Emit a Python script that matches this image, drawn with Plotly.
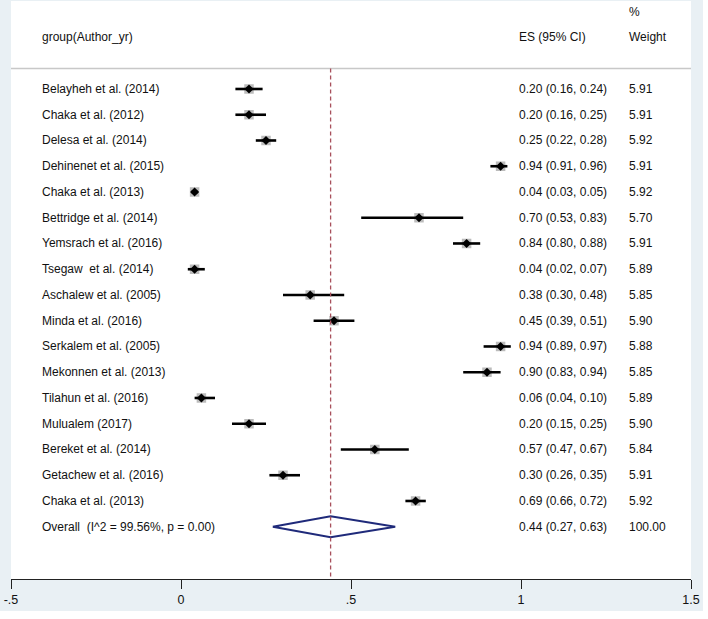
import plotly.graph_objects as go

# ---------------- data ----------------
studies = ["Belayheh et al. (2014)", "Chaka et al. (2012)", "Delesa et al. (2014)",
           "Dehinenet et al. (2015)", "Chaka et al. (2013)", "Bettridge et al. (2014)",
           "Yemsrach et al. (2016)", "Tsegaw  et al. (2014)", "Aschalew et al. (2005)",
           "Minda et al. (2016)", "Serkalem et al. (2005)", "Mekonnen et al. (2013)",
           "Tilahun et al. (2016)", "Mulualem (2017)", "Bereket et al. (2014)",
           "Getachew et al. (2016)", "Chaka et al. (2013)"]
es = [0.20, 0.20, 0.25, 0.94, 0.04, 0.70, 0.84, 0.04, 0.38, 0.45, 0.94, 0.90, 0.06, 0.20, 0.57, 0.30, 0.69]
lo = [0.16, 0.16, 0.22, 0.91, 0.03, 0.53, 0.80, 0.02, 0.30, 0.39, 0.89, 0.83, 0.04, 0.15, 0.47, 0.26, 0.66]
hi = [0.24, 0.25, 0.28, 0.96, 0.05, 0.83, 0.88, 0.07, 0.48, 0.51, 0.97, 0.94, 0.10, 0.25, 0.67, 0.35, 0.72]
weights = [5.91, 5.91, 5.92, 5.91, 5.92, 5.70, 5.91, 5.89, 5.85, 5.90, 5.88, 5.85, 5.89, 5.90, 5.84, 5.91, 5.92]

overall_label = "Overall  (I^2 = 99.56%, p = 0.00)"
overall_es, overall_lo, overall_hi, overall_w = 0.44, 0.27, 0.63, 100.00

header_label = "group(Author_yr)"
header_es = "ES (95% CI)"
header_w1 = "%"
header_w2 = "Weight"

tick_vals = [-0.5, 0, 0.5, 1, 1.5]
tick_text = ["-.5", "0", ".5", "1", "1.5"]

# ---------------- styling ----------------
FONT = "Liberation Sans Narrow, Arial Narrow, Liberation Sans, Arial, sans-serif"
FS = 12
BG = "#e9f0f4"
n = len(studies)
rows = list(range(n))
overall_row = n

X_LABEL, X_ES, X_W = -0.412, 0.991, 1.315

fig = go.Figure()

# gray weight boxes
fig.add_trace(go.Scatter(x=es, y=rows, mode="markers",
                         marker=dict(symbol="square", size=9.5, color="#bcbcbc"),
                         hoverinfo="skip", showlegend=False))
# CI lines
cx, cy = [], []
for r, a, b in zip(rows, lo, hi):
    cx += [a, b, None]
    cy += [r, r, None]
fig.add_trace(go.Scatter(x=cx, y=cy, mode="lines", line=dict(color="black", width=2.6),
                         hoverinfo="skip", showlegend=False))
# point estimates
fig.add_trace(go.Scatter(x=es, y=rows, mode="markers",
                         marker=dict(symbol="diamond", size=7, color="black"),
                         hoverinfo="skip", showlegend=False))
# overall diamond
h = 0.41
fig.add_trace(go.Scatter(x=[overall_lo, overall_es, overall_hi, overall_es, overall_lo],
                         y=[overall_row, overall_row - h, overall_row, overall_row + h, overall_row],
                         mode="lines", line=dict(color="#1f2a7a", width=2),
                         hoverinfo="skip", showlegend=False))

# text columns
all_labels = studies + [overall_label]
all_es = [f"{e:.2f} ({a:.2f}, {b:.2f})" for e, a, b in zip(es, lo, hi)] + \
         [f"{overall_es:.2f} ({overall_lo:.2f}, {overall_hi:.2f})"]
all_w = [f"{w:.2f}" for w in weights] + [f"{overall_w:.2f}"]
ann = []
for r, (l, e, w) in enumerate(zip(all_labels, all_es, all_w)):
    for xx, t in ((X_LABEL, l), (X_ES, e), (X_W, w)):
        ann.append(dict(x=xx, y=r, text=t, xanchor="left", yanchor="middle", showarrow=False,
                        font=dict(family=FONT, size=FS, color="#111"), borderpad=0))
for xx, yy, t in ((X_LABEL, -2.0, header_label), (X_ES, -2.0, header_es),
                  (X_W, -2.0, header_w2), (X_W, -2.99, header_w1)):
    ann.append(dict(x=xx, y=yy, text=t, xanchor="left", yanchor="middle", showarrow=False,
                    font=dict(family=FONT, size=FS, color="#111"), borderpad=0))

shapes = [
    # separator under header
    dict(type="line", xref="paper", x0=0, x1=1, yref="y", y0=-0.8, y1=-0.8,
         line=dict(color="#c8c8c8", width=1.5)),
    # overall effect dashed line
    dict(type="line", xref="x", x0=overall_es, x1=overall_es, yref="y", y0=-0.8, y1=19.03,
         line=dict(color="#a8505c", width=1.3, dash="4px,3px")),
    # white strips outside the graph region
    dict(type="rect", xref="paper", yref="paper", x0=(703 - 11) / 680, x1=1.1, y0=-0.2, y1=1.1,
         fillcolor="white", line=dict(width=0), layer="below"),
    dict(type="rect", xref="paper", yref="paper", x0=-0.1, x1=1.1, y0=-0.2, y1=(579 - 611) / 578,
         fillcolor="white", line=dict(width=0), layer="below"),
]

fig.update_layout(
    width=708, height=619,
    margin=dict(l=11, r=17, t=1, b=40),
    paper_bgcolor=BG, plot_bgcolor="white",
    showlegend=False,
    annotations=ann, shapes=shapes,
    font=dict(family=FONT, size=FS, color="#111"),
    xaxis=dict(range=[-0.5, 1.5], tickvals=tick_vals, ticktext=tick_text,
               showgrid=False, zeroline=False, showline=True, linecolor="#222", linewidth=1.2,
               ticks="outside", ticklen=9, tickwidth=1.2, tickcolor="#222",
               tickfont=dict(family=FONT, size=12.5, color="#111"), fixedrange=True),
    yaxis=dict(range=[19.03, -3.417], visible=False, fixedrange=True),
)

fig.write_html("out.html", config={"displayModeBar": False},
               post_script="document.body.style.margin='0px';")
